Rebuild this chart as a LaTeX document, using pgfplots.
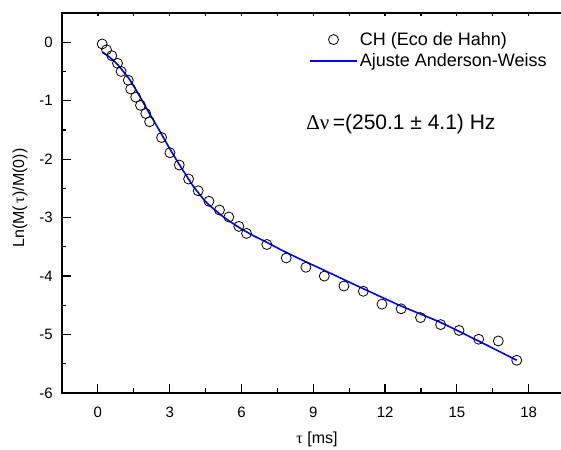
\documentclass[border=0pt]{standalone}
\usepackage{fontspec}
\setmainfont{Liberation Sans}
\newfontfamily\grk{Liberation Serif}
\usepackage{pgfplots}
\pgfplotsset{compat=1.18}

\pgfplotstableread{
x y
0.18 -0.03
0.36 -0.13
0.58 -0.23
0.82 -0.36
0.97 -0.50
1.27 -0.65
1.37 -0.80
1.58 -0.94
1.78 -1.08
2.00 -1.22
2.16 -1.36
2.66 -1.63
3.01 -1.89
3.40 -2.10
3.79 -2.34
4.19 -2.54
4.64 -2.72
5.08 -2.87
5.47 -2.99
5.89 -3.15
6.21 -3.27
7.06 -3.46
7.87 -3.69
8.69 -3.85
9.46 -4.00
10.28 -4.17
11.09 -4.26
11.87 -4.48
12.67 -4.56
13.48 -4.71
14.32 -4.83
15.09 -4.93
15.91 -5.08
16.73 -5.11
17.50 -5.44
}\echodata

\pgfplotstableread{
x y
0.2 -0.17
0.5 -0.26
0.82 -0.38
1.1 -0.52
1.33 -0.64
1.7 -0.89
2.03 -1.13
2.3 -1.32
2.6 -1.53
3.0 -1.82
3.43 -2.11
3.98 -2.46
4.53 -2.74
5.22 -2.98
5.9 -3.17
6.5 -3.31
7.0 -3.41
7.6 -3.54
8.5 -3.72
9.5 -3.91
10.9 -4.18
12.6 -4.50
14.3 -4.79
15.9 -5.11
17.5 -5.44
}\fitdata

\begin{document}
\begin{tikzpicture}
\useasboundingbox (-62pt,-56pt) rectangle (499pt,393pt);
% top line with short ticks
\begin{axis}[
    at={(0pt,0pt)}, anchor=south west,
    scale only axis, width=499pt, height=380pt,
    xmin=-1.5, xmax=19.35, ymin=-6, ymax=0.5,
    axis x line*=top, axis y line=none,
    xtick={0,1.5,...,18}, xticklabels={},
    tick align=inside, major tick length=3.5pt,
    axis line style={line width=1.8pt},
    every tick/.style={black, line width=1.2pt},
]
\end{axis}
\begin{axis}[
    at={(0pt,0pt)}, anchor=south west,
    scale only axis, width=499pt, height=380pt,
    xmin=-1.5, xmax=19.35, ymin=-6, ymax=0.5,
    axis x line*=bottom, axis y line*=left,
    axis line style={line width=1.8pt, line cap=rect},
    every tick/.style={black, line width=1.2pt},
    tick align=inside,
    major tick length=8.5pt, minor tick length=4.5pt,
    xtick={0,3,...,18}, ytick={-6,...,0},
    minor x tick num=1, minor y tick num=1,
    /pgf/number format/assume math mode=true,
    tick label style={font=\fontsize{15}{17}\selectfont},
    xticklabel style={anchor=center, yshift=-19pt},
    yticklabel style={anchor=east, inner sep=0pt, xshift=-9pt},
    xlabel={{\grk τ} [ms]},
    ylabel={Ln(M(\,{\grk τ})/M(0))},
    label style={font=\fontsize{16}{18}\selectfont},
    xlabel style={at={(axis description cs:0.511,-0.121)}, anchor=center},
    ylabel style={at={(axis description cs:-0.084,0.513)}, anchor=center},
    legend image code/.code={\draw[mark repeat=2,mark phase=2,#1] plot coordinates {(0pt,0pt) (23.5pt,0pt) (47pt,0pt)};},
    legend style={draw=none, fill=none, inner sep=0pt,
        at={(axis description cs:0.495,0.955)}, anchor=north west,
        font=\fontsize{18}{20}\selectfont, row sep=3pt,
        nodes={inner sep=2pt}},
    legend cell align=left,
]
\addplot[only marks, mark=o, mark size=5pt, black, mark options={line width=0.8pt}] table {\echodata};
\addlegendentry{CH (Eco de Hahn)}
\addplot[blue, line width=1.6pt, smooth, tension=0.3] table {\fitdata};
\addlegendentry{Ajuste Anderson-Weiss}
\node[anchor=base west, inner sep=0pt, font=\fontsize{21}{23}\selectfont] at (axis cs:8.7,-1.50) {{\grk Δν}\,=(250.1 ± 4.1) Hz};
\end{axis}
\end{tikzpicture}
\end{document}
